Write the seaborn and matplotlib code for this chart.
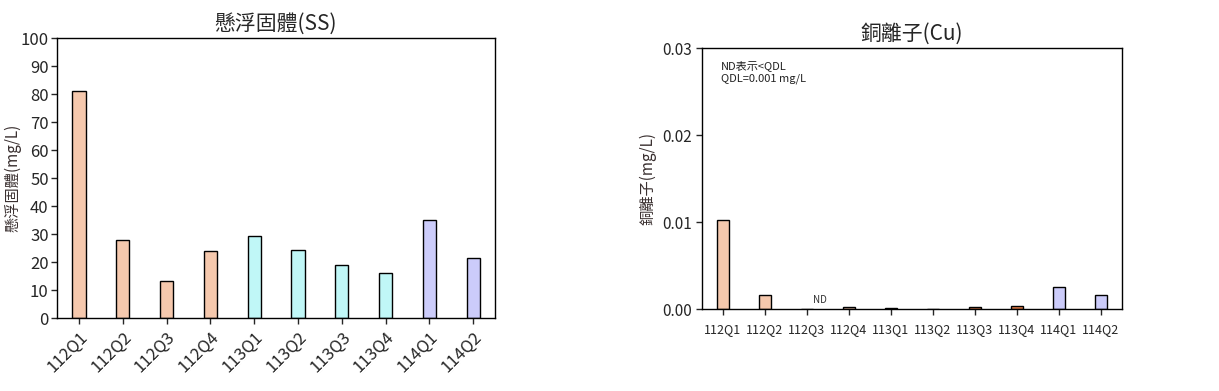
import seaborn as sns
import pandas as pd
import matplotlib.pyplot as plt

sns.set_theme(style="white")
plt.rcParams['font.family'] = ['Noto Sans CJK TC', 'DejaVu Sans']

quarters = ['112Q1', '112Q2', '112Q3', '112Q4', '113Q1', '113Q2', '113Q3', '113Q4', '114Q1', '114Q2']
ss_values = [81, 28, 13.2, 24, 29.3, 24.3, 19, 16, 35, 21.4]
cu_values = [0.0102, 0.0016, 0, 0.0002, 0.0001, 0, 0.0002, 0.0003, 0.0025, 0.0016]
cu_nd = ['112Q3']

peach = '#F5C8AD'
cyan = '#C0F7F7'
lilac = '#CCCCFA'
ss_colors = [peach] * 4 + [cyan] * 4 + [lilac] * 2
cu_colors = [peach, peach, peach, peach, '#333333', cyan, '#E8804A', '#E8804A', lilac, lilac]

df_ss = pd.DataFrame({'quarter': quarters, 'value': ss_values})
df_cu = pd.DataFrame({'quarter': quarters, 'value': cu_values})

fig = plt.figure(figsize=(12.19, 3.91), dpi=100)
ax1 = fig.add_axes([0.0468, 0.1867, 0.3593, 0.716])
ax2 = fig.add_axes([0.5759, 0.2097, 0.3445, 0.6675])

sns.barplot(data=df_ss, x='quarter', y='value', hue='quarter', palette=ss_colors, saturation=1,
            width=0.3, edgecolor='black', linewidth=1, legend=False, ax=ax1)
ax1.set_ylim(0, 100)
ax1.set_yticks(range(0, 101, 10))
ax1.set_title('懸浮固體(SS)', fontsize=15, pad=6)
ax1.set_ylabel('懸浮固體(mg/L)', fontsize=11, color='#3a3030', labelpad=-1)
ax1.set_xlabel('')
ax1.tick_params(axis='x', labelsize=12, rotation=45, length=4, width=1, direction='out', bottom=True)
ax1.tick_params(axis='y', labelsize=12, length=4, width=1, direction='out', left=True, pad=2)
for lbl in ax1.get_xticklabels():
    lbl.set_ha('right')
    lbl.set_rotation_mode('anchor')
ax1.set_xlim(-0.5, 9.5)

sns.barplot(data=df_cu, x='quarter', y='value', hue='quarter', palette=cu_colors, saturation=1,
            width=0.3, edgecolor='black', linewidth=1, legend=False, ax=ax2)
ax2.set_ylim(0, 0.03)
ax2.set_yticks([0, 0.01, 0.02, 0.03])
ax2.set_yticklabels(['0.00', '0.01', '0.02', '0.03'])
ax2.set_title('銅離子(Cu)', fontsize=15, pad=6)
ax2.set_ylabel('銅離子(mg/L)', fontsize=11, color='#3a3030', labelpad=4)
ax2.set_xlabel('')
ax2.tick_params(axis='x', labelsize=9, length=4, width=1, direction='out', bottom=True, pad=6)
ax2.tick_params(axis='y', labelsize=11, length=4, width=1, direction='out', left=True)
ax2.set_xlim(-0.5, 9.5)
for q in cu_nd:
    i = quarters.index(q)
    ax2.text(i + 0.3, 0.0005, 'ND', fontsize=7, ha='center', va='bottom', color='#333333')
ax2.text(0.045, 0.955, 'ND表示<QDL\nQDL=0.001 mg/L', transform=ax2.transAxes,
         fontsize=8, va='top', ha='left', linespacing=1.4, color='#222222')

for ax in (ax1, ax2):
    for s in ax.spines.values():
        s.set_color('black')
        s.set_linewidth(1)

fig.savefig('out.png', dpi=100)
